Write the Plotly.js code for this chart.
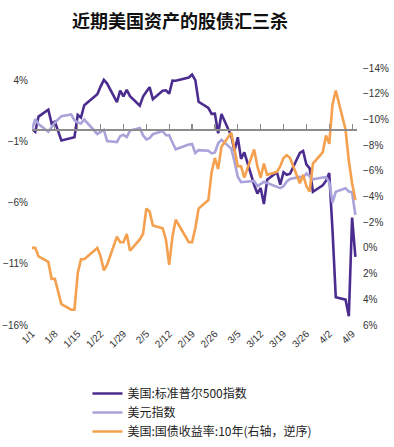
<!DOCTYPE html>
<html>
<head>
<meta charset="utf-8">
<script src="https://cdn.plot.ly/plotly-3.0.1.min.js"></script>
<style>html,body{margin:0;padding:0;background:#fff;}#chart{width:394px;height:447px;}</style>
</head>
<body>
<div id="chart"></div>
<script>
// Dates (1/1 base point + trading days)
const dates = ['2025-01-01','2025-01-02','2025-01-03','2025-01-06','2025-01-07','2025-01-08','2025-01-10','2025-01-13','2025-01-14','2025-01-15','2025-01-16','2025-01-17','2025-01-21','2025-01-22','2025-01-23','2025-01-24','2025-01-27','2025-01-28','2025-01-29','2025-01-30','2025-01-31',
'2025-02-03','2025-02-04','2025-02-05','2025-02-06','2025-02-07','2025-02-10','2025-02-11','2025-02-12','2025-02-13','2025-02-14','2025-02-18','2025-02-19','2025-02-20','2025-02-21','2025-02-24','2025-02-25','2025-02-26','2025-02-27','2025-02-28',
'2025-03-03','2025-03-04','2025-03-05','2025-03-06','2025-03-07','2025-03-10','2025-03-11','2025-03-12','2025-03-13','2025-03-14','2025-03-17','2025-03-18','2025-03-19','2025-03-20','2025-03-21','2025-03-24','2025-03-25','2025-03-26','2025-03-27','2025-03-28','2025-03-31',
'2025-04-01','2025-04-02','2025-04-03','2025-04-04','2025-04-07','2025-04-08','2025-04-09','2025-04-10'];

// 美国:标准普尔500指数, cumulative % change (left axis)
const spx = [0,-0.22,1.03,1.59,0.47,0.62,-0.93,-0.77,-0.66,1.16,0.95,1.96,2.85,3.48,4.03,3.73,2.22,3.16,2.68,3.22,2.70,
1.92,2.66,3.06,3.43,2.45,3.14,3.18,2.90,3.97,3.96,4.22,4.46,4.01,2.24,1.73,1.25,1.27,-0.34,1.24,
-0.54,-1.76,-0.66,-2.43,-1.89,-4.54,-5.26,-4.80,-6.12,-4.13,-3.51,-4.54,-3.51,-3.72,-3.64,-1.94,-1.78,-2.88,-3.20,-5.11,-4.59,
-4.23,-3.58,-8.25,-13.73,-13.93,-15.28,-7.22,-10.43];

// 美元指数, cumulative % change (left axis)
const dxy = [0,0.83,0.42,-0.21,0.15,0.53,1.07,1.20,0.72,0.55,0.47,0.79,-0.39,-0.22,-0.06,-0.97,-1.06,-0.57,-0.46,-0.64,-0.11,
0.10,-0.50,-0.83,-0.73,-0.41,-0.15,-0.49,-0.49,-1.09,-1.64,-1.26,-1.21,-1.94,-1.71,-1.76,-1.98,-1.90,-1.15,-0.86,
-1.59,-2.63,-3.88,-4.33,-4.29,-4.23,-4.65,-4.47,-4.30,-4.40,-4.72,-4.82,-4.66,-4.27,-4.06,-3.90,-3.98,-3.62,-3.85,-4.10,-3.95,
-3.92,-4.31,-6.00,-5.12,-4.82,-5.10,-5.16,-7.01];

// 美国:国债收益率:10年, cumulative % change (right axis, reversed)
const ust = [0,0,0.66,1.09,2.41,2.41,4.38,4.81,4.81,1.97,0.88,0.88,0,0.66,1.75,1.31,-0.88,-0.44,-0.44,-1.09,0.22,
-0.66,-1.09,-3.06,-2.84,-1.75,-1.53,-0.66,1.31,-0.88,-2.19,-0.44,-0.44,-1.53,-3.06,-3.72,-5.91,-7.00,-6.13,-7.88,
-8.97,-7.66,-6.35,-6.35,-5.47,-7.66,-6.35,-5.47,-6.56,-5.69,-5.91,-6.35,-7.00,-7.22,-7.00,-5.03,-5.69,-4.81,-4.38,-6.56,-7.44,
-8.75,-8.10,-11.16,-12.25,-9.19,-6.78,-5.03,-3.72];

const seriesNames = ['美国:标准普尔500指数','美元指数','美国:国债收益率:10年(右轴，逆序)'];
const chartTitle = '近期美国资产的股债汇三杀';

const xRange = ['2025-01-01','2025-04-10 12:00'];
const WEEK = 7*86400000;
const leftMin = -16, leftMax = 5;

const traces = [
  {x: dates, y: spx, name: seriesNames[0], type: 'scatter', mode: 'lines', xaxis: 'x', yaxis: 'y',
   line: {color: '#4B2D8F', width: 2.6}},
  {x: dates, y: dxy, name: seriesNames[1], type: 'scatter', mode: 'lines', xaxis: 'x', yaxis: 'y',
   line: {color: '#A9A3DA', width: 2.6}},
  {x: dates, y: ust, name: seriesNames[2], type: 'scatter', mode: 'lines', xaxis: 'x', yaxis: 'y2',
   line: {color: '#F4A04E', width: 2.6}},
  {x: [dates[0]], y: [null], xaxis: 'x2', yaxis: 'y', type: 'scatter', mode: 'lines',
   showlegend: false, hoverinfo: 'skip'}
];

const tickFont = {family: 'Liberation Sans, Arial, sans-serif', size: 10, color: '#333'};

const layout = {
  width: 394, height: 447,
  margin: {l: 32, r: 37, t: 68, b: 122, autoexpand: false},
  paper_bgcolor: '#fff', plot_bgcolor: '#fff',
  title: {text: chartTitle, x: 0.457, xref: 'container', xanchor: 'center',
          y: 0.951, yref: 'container', yanchor: 'middle',
          font: {family: 'Noto Sans CJK SC, sans-serif', size: 18, color: '#111', weight: 'bold'}},
  xaxis: {type: 'date', range: xRange, tick0: '2025-01-01', dtick: WEEK, tickformat: '%-m/%-d',
          tickangle: -45, showline: false, ticks: '', showgrid: false, zeroline: false,
          automargin: false, tickfont: tickFont},
  xaxis2: {type: 'date', overlaying: 'x', anchor: 'free', position: (0 - leftMin)/(leftMax - leftMin),
           range: xRange, tick0: '2025-01-01', dtick: WEEK, side: 'bottom', automargin: false,
           showticklabels: false, ticks: 'inside', ticklen: 5, tickwidth: 1.2, tickcolor: '#8c8c8c',
           showline: true, linecolor: '#8c8c8c', linewidth: 1.5, showgrid: false, zeroline: false},
  yaxis: {range: [leftMin, leftMax], tick0: -16, dtick: 5, ticksuffix: '%', showgrid: false,
          zeroline: false, showline: false, ticks: '', ticklabelstandoff: 3, automargin: false,
          tickfont: tickFont},
  yaxis2: {overlaying: 'y', side: 'right', anchor: 'x', range: [6, -14], tick0: 0, dtick: 2,
           ticksuffix: '%', showgrid: false, zeroline: false, showline: false, ticks: '',
           ticklabelstandoff: 5, automargin: false, tickfont: tickFont},
  showlegend: true,
  legend: {orientation: 'v', xref: 'container', yref: 'container', x: 0.222, xanchor: 'left',
           y: 0.152, yanchor: 'top', bgcolor: 'rgba(0,0,0,0)', tracegroupgap: 0, itemwidth: 30,
           font: {family: 'Noto Sans CJK SC, sans-serif', size: 12, color: '#222'}}
};

Plotly.newPlot('chart', traces, layout, {displayModeBar: false, staticPlot: true});
</script>
</body>
</html>
